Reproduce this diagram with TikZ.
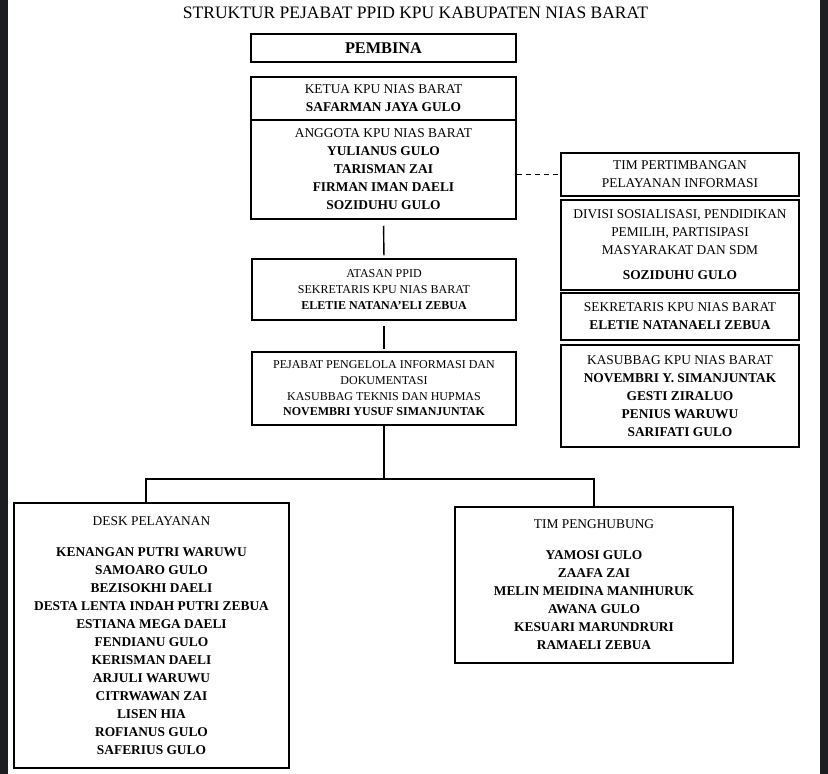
\documentclass[tikz,border=0pt]{standalone}
\usepackage{fontspec}
\setmainfont{Liberation Serif}
\usepackage{tikz}
\definecolor{tepi}{RGB}{28,29,32}

\begin{document}
\begin{tikzpicture}[x=1pt,y=-1pt,
    kotak/.style={draw, line width=1.5pt, align=center, inner sep=0pt},
    besar/.style={kotak, font=\fontsize{13.4}{18}\selectfont},
    kecil/.style={kotak, font=\fontsize{12}{15.7}\selectfont},
    garis/.style={line width=1.4pt}]
      \useasboundingbox (0,0) rectangle (828,774);
      \fill[tepi] (0,0) rectangle (8,774);
      \fill[tepi] (820,0) rectangle (828,774);

      \node (judul) at (415.5,12.5) {\fontsize{17.5}{20}\selectfont STRUKTUR PEJABAT PPID KPU KABUPATEN NIAS BARAT};
      \node[kotak, minimum width=265pt, minimum height=28pt, font=\fontsize{16.3}{18}\selectfont\bfseries] (pembina) at (383.5,48) {PEMBINA};
      \node[besar, minimum width=265pt, minimum height=43pt] (ketua) at (383.5,98.5) {KETUA KPU NIAS BARAT\\\textbf{SAFARMAN JAYA GULO}};
      \node[besar, minimum width=265pt, minimum height=99pt] (anggota) at (383.5,169.5) {ANGGOTA KPU NIAS BARAT\\\textbf{YULIANUS GULO}\\\textbf{TARISMAN ZAI}\\\textbf{FIRMAN IMAN DAELI}\\\textbf{SOZIDUHU GULO}};
      \node[kecil, minimum width=264pt, minimum height=61pt] (atasan) at (384,289.5) {ATASAN PPID\\SEKRETARIS KPU NIAS BARAT\\\textbf{ELETIE NATANA'ELI ZEBUA}};
      \node[kecil, minimum width=264pt, minimum height=73pt] (pejabat) at (384,388.5) {PEJABAT PENGELOLA INFORMASI DAN\\DOKUMENTASI\\KASUBBAG TEKNIS DAN HUPMAS\\\textbf{NOVEMBRI YUSUF SIMANJUNTAK}};

      \node[besar, minimum width=238pt, minimum height=43pt] (pertimbangan) at (680,174.5) {TIM PERTIMBANGAN\\PELAYANAN INFORMASI};
      \node[besar, minimum width=238pt, minimum height=90pt] (divisi) at (680,245) {DIVISI SOSIALISASI, PENDIDIKAN\\PEMILIH, PARTISIPASI\\MASYARAKAT DAN SDM\\[7pt]\textbf{SOZIDUHU GULO}};
      \node[besar, minimum width=238pt, minimum height=47pt] (sekretaris) at (680,316.5) {SEKRETARIS KPU NIAS BARAT\\\textbf{ELETIE NATANAELI ZEBUA}};
      \node[besar, minimum width=238pt, minimum height=102pt] (kasubbag) at (680,396) {KASUBBAG KPU NIAS BARAT\\\textbf{NOVEMBRI Y. SIMANJUNTAK}\\\textbf{GESTI ZIRALUO}\\\textbf{PENIUS WARUWU}\\\textbf{SARIFATI GULO}};

      \node[besar, minimum width=275pt, minimum height=265pt] (desk) at (151.5,635.5) {DESK PELAYANAN\\[13pt]\textbf{KENANGAN PUTRI WARUWU}\\\textbf{SAMOARO GULO}\\\textbf{BEZISOKHI DAELI}\\\textbf{DESTA LENTA INDAH PUTRI ZEBUA}\\\textbf{ESTIANA MEGA DAELI}\\\textbf{FENDIANU GULO}\\\textbf{KERISMAN DAELI}\\\textbf{ARJULI WARUWU}\\\textbf{CITRWAWAN ZAI}\\\textbf{LISEN HIA}\\\textbf{ROFIANUS GULO}\\\textbf{SAFERIUS GULO}};
      \node[besar, minimum width=278pt, minimum height=156pt] (penghubung) at (594,585) {TIM PENGHUBUNG\\[13pt]\textbf{YAMOSI GULO}\\\textbf{ZAAFA ZAI}\\\textbf{MELIN MEIDINA MANIHURUK}\\\textbf{AWANA GULO}\\\textbf{KESUARI MARUNDRURI}\\\textbf{RAMAELI ZEBUA}};

      \coordinate (cabang) at (384,479);
      \draw[garis, dash pattern=on 5pt off 4pt] (anggota.east |- pertimbangan.west) -- (pertimbangan.west);
      \draw[garis, shorten <=6pt, shorten >=3pt] (anggota.south) -- (atasan.north);
      \draw[garis, shorten <=5pt, shorten >=2pt] (atasan.south) -- (pejabat.north);
      \draw[garis] (pejabat.south) -- (cabang);
      \draw[garis] ([xshift=-5.5pt]desk.north) |- (cabang) -| (penghubung.north);
\end{tikzpicture}
\end{document}
